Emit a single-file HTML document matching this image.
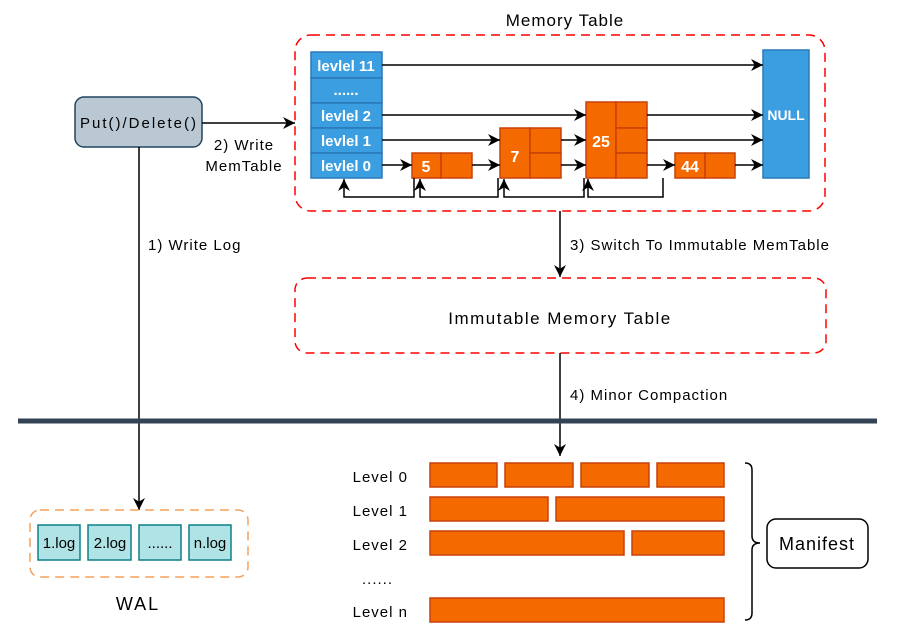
<!DOCTYPE html>
<html><head><meta charset="utf-8"><style>
html,body{margin:0;padding:0;background:#fff;}
svg{display:block;font-family:"Liberation Sans",sans-serif;}
</style></head><body>
<svg width="900" height="635" viewBox="0 0 900 635" xmlns="http://www.w3.org/2000/svg">
<defs>
<marker id="a" viewBox="0 0 10 10" refX="10" refY="5" markerWidth="12" markerHeight="12" markerUnits="userSpaceOnUse" orient="auto"><path d="M0,0 L10,5 L0,10 L3,5 z" fill="#000"/></marker>
</defs>
<text x="565" y="26" font-size="17" letter-spacing="1" text-anchor="middle">Memory Table</text>
<rect x="295" y="35" width="530" height="176" rx="16" fill="none" stroke="#f00" stroke-width="1.5" stroke-dasharray="9,6"/>
<g fill="#3a9ee0" stroke="#2a78b8" stroke-width="1.5">
<rect x="311" y="52" width="71" height="26"/><rect x="311" y="78" width="71" height="25"/><rect x="311" y="103" width="71" height="25"/><rect x="311" y="128" width="71" height="25"/><rect x="311" y="153" width="71" height="25"/>
<rect x="763" y="50" width="46" height="128"/>
</g>
<g fill="#fff" font-size="15" text-anchor="middle" font-weight="bold">
<text x="346" y="71">levlel 11</text><text x="346" y="95">......</text><text x="346" y="121">levlel 2</text><text x="346" y="146">levlel 1</text><text x="346" y="171">levlel 0</text>
<text x="786" y="120" font-size="14">NULL</text>
</g>
<g fill="#f56a00" stroke="#c7410a" stroke-width="1.5">
<rect x="412" y="153" width="29" height="25"/><rect x="441" y="153" width="31" height="25"/>
<rect x="500" y="128" width="30" height="50"/><rect x="530" y="128" width="31" height="25"/><rect x="530" y="153" width="31" height="25"/>
<rect x="586" y="102" width="30" height="76"/><rect x="616" y="102" width="31" height="26"/><rect x="616" y="128" width="31" height="25"/><rect x="616" y="153" width="31" height="25"/>
<rect x="675" y="153" width="30" height="25"/><rect x="705" y="153" width="30" height="25"/>
</g>
<g fill="#fff" font-size="16" font-weight="bold" text-anchor="middle">
<text x="426" y="172">5</text><text x="515" y="162">7</text><text x="601" y="147">25</text><text x="690" y="172">44</text>
</g>
<g stroke="#000" stroke-width="1.5" fill="none" marker-end="url(#a)">
<line x1="382" y1="65" x2="763" y2="65"/>
<line x1="382" y1="115" x2="586" y2="115"/><line x1="647" y1="115" x2="763" y2="115"/>
<line x1="382" y1="140" x2="500" y2="140"/><line x1="561" y1="140" x2="586" y2="140"/><line x1="647" y1="140" x2="763" y2="140"/>
<line x1="382" y1="165" x2="412" y2="165"/><line x1="472" y1="165" x2="500" y2="165"/><line x1="561" y1="165" x2="586" y2="165"/><line x1="647" y1="165" x2="675" y2="165"/><line x1="735" y1="165" x2="763" y2="165"/>
<polyline points="414,178 414,197 344,197 344,179"/>
<polyline points="498,178 498,197 420,197 420,179"/>
<polyline points="584,178 584,197 504,197 504,179"/>
<polyline points="663,178 663,197 588,197 588,179"/>
</g>
<rect x="75" y="97" width="127" height="50" rx="9" fill="#bac8d3" stroke="#23445d" stroke-width="1.5"/>
<text x="139" y="128" font-size="15" letter-spacing="2" text-anchor="middle">Put()/Delete()</text>
<line x1="202" y1="123" x2="295" y2="123" stroke="#000" stroke-width="1.5" marker-end="url(#a)"/>
<text x="244" y="150" font-size="15" letter-spacing="1" text-anchor="middle">2) Write</text>
<text x="244" y="171" font-size="15" letter-spacing="1" text-anchor="middle">MemTable</text>
<line x1="139" y1="147" x2="139" y2="510" stroke="#000" stroke-width="1.5" marker-end="url(#a)"/>
<text x="148" y="250" font-size="15" letter-spacing="1">1) Write Log</text>
<line x1="560" y1="211" x2="560" y2="277" stroke="#000" stroke-width="1.5" marker-end="url(#a)"/>
<text x="570" y="250" font-size="15" letter-spacing="1">3) Switch To Immutable MemTable</text>
<rect x="295" y="278" width="531" height="75" rx="12" fill="none" stroke="#f00" stroke-width="1.5" stroke-dasharray="9,6"/>
<text x="560" y="324" font-size="17" letter-spacing="1.5" text-anchor="middle">Immutable Memory Table</text>
<line x1="560" y1="353" x2="560" y2="456" stroke="#000" stroke-width="1.5" marker-end="url(#a)"/>
<text x="570" y="400" font-size="15" letter-spacing="1">4) Minor Compaction</text>
<line x1="18" y1="421" x2="877" y2="421" stroke="#314354" stroke-width="5"/>
<g fill="#f56a00" stroke="#c7410a" stroke-width="1.5">
<rect x="430" y="463" width="67" height="24"/><rect x="505" y="463" width="68" height="24"/><rect x="581" y="463" width="68" height="24"/><rect x="657" y="463" width="67" height="24"/>
<rect x="430" y="497" width="118" height="24"/><rect x="556" y="497" width="168" height="24"/>
<rect x="430" y="531" width="194" height="24"/><rect x="632" y="531" width="92" height="24"/>
<rect x="430" y="598" width="294" height="24"/>
</g>
<g font-size="15" letter-spacing="1" text-anchor="end">
<text x="408" y="482">Level 0</text><text x="408" y="516">Level 1</text><text x="408" y="550">Level 2</text><text x="393" y="584">......</text><text x="408" y="617">Level n</text>
</g>
<path d="M745,463 Q752,463 752,470 L752,536 Q752,543 760,543 Q752,543 752,550 L752,613 Q752,620 745,620" fill="none" stroke="#000" stroke-width="1.5"/>
<rect x="767" y="519" width="101" height="49" rx="9" fill="#fff" stroke="#000" stroke-width="1.5"/>
<text x="817" y="550" font-size="18" letter-spacing="1" text-anchor="middle">Manifest</text>
<rect x="30" y="510" width="218" height="67" rx="10" fill="none" stroke="#f5a05c" stroke-width="1.5" stroke-dasharray="9,6"/>
<g fill="#b0e3e6" stroke="#0e8088" stroke-width="1.5">
<rect x="38" y="525" width="42" height="35"/><rect x="88" y="525" width="43" height="35"/><rect x="139" y="525" width="42" height="35"/><rect x="189" y="525" width="42" height="35"/>
</g>
<g font-size="15" text-anchor="middle">
<text x="59" y="548">1.log</text><text x="110" y="548">2.log</text><text x="160" y="548">......</text><text x="210" y="548">n.log</text>
</g>
<text x="138" y="610" font-size="18" letter-spacing="2" text-anchor="middle">WAL</text>
</svg>
</body></html>
